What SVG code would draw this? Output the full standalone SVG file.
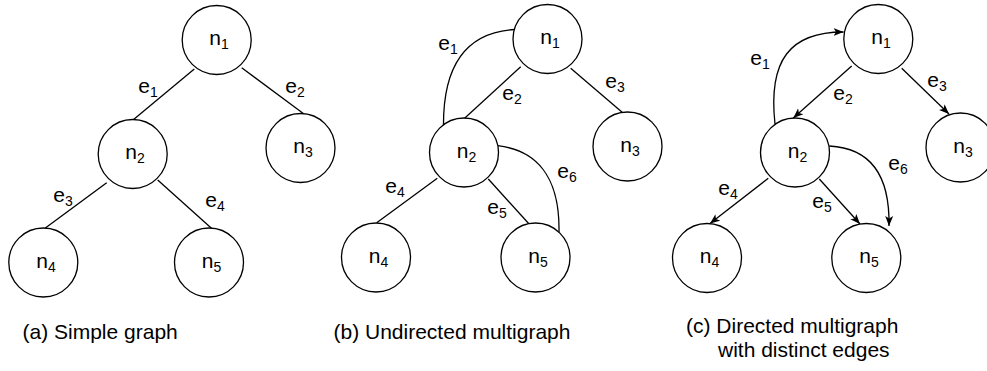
<svg xmlns="http://www.w3.org/2000/svg" width="987" height="371" viewBox="0 0 987 371">
<style>
.node{fill:#fff;stroke:#000;stroke-width:1.3}
.edge{fill:none;stroke:#000;stroke-width:1.3}
.arr{marker-end:url(#ah)}
text{font-family:"Liberation Sans",Arial,sans-serif;fill:#000}
.lbl{font-size:21px;text-anchor:middle}
.sub{font-size:14px}
.cap{font-size:21px}
</style>
<defs>
<marker id="ah" markerUnits="userSpaceOnUse" markerWidth="11" markerHeight="9" refX="10" refY="4.5" orient="auto">
<path d="M0,0.5 L10,4.5 L0,8.5 L2.5,4.5 Z" fill="#000"/>
</marker>
</defs>
<rect width="987" height="371" fill="#fff"/>
<g id="connectors">
<!-- (a) -->
<line class="edge" x1="194.3" y1="69" x2="133" y2="120"/>
<line class="edge" x1="241.7" y1="67.7" x2="304" y2="114"/>
<line class="edge" x1="106.7" y1="182.7" x2="45" y2="228.3"/>
<line class="edge" x1="157.7" y1="180" x2="212.3" y2="229"/>
<!-- (b) -->
<path class="edge" d="M515,29.5 C470,32 443,60 443.5,126"/>
<line class="edge" x1="520.7" y1="66.7" x2="462.7" y2="120"/>
<line class="edge" x1="570.7" y1="68.3" x2="623.3" y2="113.3"/>
<line class="edge" x1="437.3" y1="178.3" x2="376.7" y2="222.7"/>
<line class="edge" x1="488.3" y1="179" x2="530" y2="225"/>
<path class="edge" d="M497.7,145.7 C535,150 560,175 559,232"/>
<!-- (c) -->
<path class="edge arr" d="M775,124 C768,60 790,32 843.5,32"/>
<line class="edge arr" x1="851.7" y1="66" x2="793.3" y2="118"/>
<line class="edge arr" x1="901.7" y1="68.3" x2="949" y2="114"/>
<line class="edge arr" x1="768.3" y1="178.3" x2="710" y2="223.5"/>
<line class="edge arr" x1="819.3" y1="179" x2="860" y2="224"/>
<path class="edge arr" d="M829.3,146 C870,148 890,175 889,226"/>
</g>
<g id="edge-labels">
<text class="lbl" x="148" y="93">e<tspan class="sub" dy="4">1</tspan></text>
<text class="lbl" x="295" y="93">e<tspan class="sub" dy="4">2</tspan></text>
<text class="lbl" x="63" y="202">e<tspan class="sub" dy="4">3</tspan></text>
<text class="lbl" x="215" y="207">e<tspan class="sub" dy="4">4</tspan></text>
<text class="lbl" x="448" y="50">e<tspan class="sub" dy="4">1</tspan></text>
<text class="lbl" x="512" y="100">e<tspan class="sub" dy="4">2</tspan></text>
<text class="lbl" x="615" y="88">e<tspan class="sub" dy="4">3</tspan></text>
<text class="lbl" x="395" y="193">e<tspan class="sub" dy="4">4</tspan></text>
<text class="lbl" x="497" y="214">e<tspan class="sub" dy="4">5</tspan></text>
<text class="lbl" x="567" y="178">e<tspan class="sub" dy="4">6</tspan></text>
<text class="lbl" x="760" y="65">e<tspan class="sub" dy="4">1</tspan></text>
<text class="lbl" x="843" y="100">e<tspan class="sub" dy="4">2</tspan></text>
<text class="lbl" x="937" y="87">e<tspan class="sub" dy="4">3</tspan></text>
<text class="lbl" x="728" y="195">e<tspan class="sub" dy="4">4</tspan></text>
<text class="lbl" x="822" y="208">e<tspan class="sub" dy="4">5</tspan></text>
<text class="lbl" x="898" y="170">e<tspan class="sub" dy="4">6</tspan></text>
</g>
<g id="a-n1"><circle class="node" cx="216.7" cy="40" r="34.5"/><text class="lbl" x="219" y="45">n<tspan class="sub" dy="4">1</tspan></text></g>
<g id="a-n2"><circle class="node" cx="132.7" cy="154" r="34.5"/><text class="lbl" x="135" y="159">n<tspan class="sub" dy="4">2</tspan></text></g>
<g id="a-n3"><circle class="node" cx="300.5" cy="148" r="34.5"/><text class="lbl" x="303" y="153">n<tspan class="sub" dy="4">3</tspan></text></g>
<g id="a-n4"><circle class="node" cx="43.3" cy="262.5" r="34.5"/><text class="lbl" x="46" y="267.5">n<tspan class="sub" dy="4">4</tspan></text></g>
<g id="a-n5"><circle class="node" cx="209" cy="262.5" r="34.5"/><text class="lbl" x="211.5" y="267.5">n<tspan class="sub" dy="4">5</tspan></text></g>
<g id="b-n1"><circle class="node" cx="547.5" cy="39" r="34.5"/><text class="lbl" x="550" y="44">n<tspan class="sub" dy="4">1</tspan></text></g>
<g id="b-n2"><circle class="node" cx="464" cy="152.5" r="34.5"/><text class="lbl" x="466.5" y="157.5">n<tspan class="sub" dy="4">2</tspan></text></g>
<g id="b-n3"><circle class="node" cx="627.5" cy="146.5" r="34.5"/><text class="lbl" x="630" y="151.5">n<tspan class="sub" dy="4">3</tspan></text></g>
<g id="b-n4"><circle class="node" cx="376" cy="257.5" r="34.5"/><text class="lbl" x="378.5" y="262.5">n<tspan class="sub" dy="4">4</tspan></text></g>
<g id="b-n5"><circle class="node" cx="535.5" cy="257.5" r="34.5"/><text class="lbl" x="538" y="262.5">n<tspan class="sub" dy="4">5</tspan></text></g>
<g id="c-n1"><circle class="node" cx="878.3" cy="39" r="34.5"/><text class="lbl" x="881" y="44">n<tspan class="sub" dy="4">1</tspan></text></g>
<g id="c-n2"><circle class="node" cx="795" cy="152.5" r="34.5"/><text class="lbl" x="797.5" y="157.5">n<tspan class="sub" dy="4">2</tspan></text></g>
<g id="c-n3"><circle class="node" cx="960.5" cy="147.5" r="34.5"/><text class="lbl" x="963" y="152.5">n<tspan class="sub" dy="4">3</tspan></text></g>
<g id="c-n4"><circle class="node" cx="707" cy="258" r="34.5"/><text class="lbl" x="709.5" y="263">n<tspan class="sub" dy="4">4</tspan></text></g>
<g id="c-n5"><circle class="node" cx="866.3" cy="258" r="34.5"/><text class="lbl" x="869" y="263">n<tspan class="sub" dy="4">5</tspan></text></g>
<g id="captions">
<text class="cap" x="22.5" y="339">(a) Simple graph</text>
<text class="cap" x="333.5" y="339">(b) Undirected multigraph</text>
<text class="cap" x="686" y="333">(c) Directed multigraph</text>
<text class="cap" x="718" y="357">with distinct edges</text>
</g>
</svg>
